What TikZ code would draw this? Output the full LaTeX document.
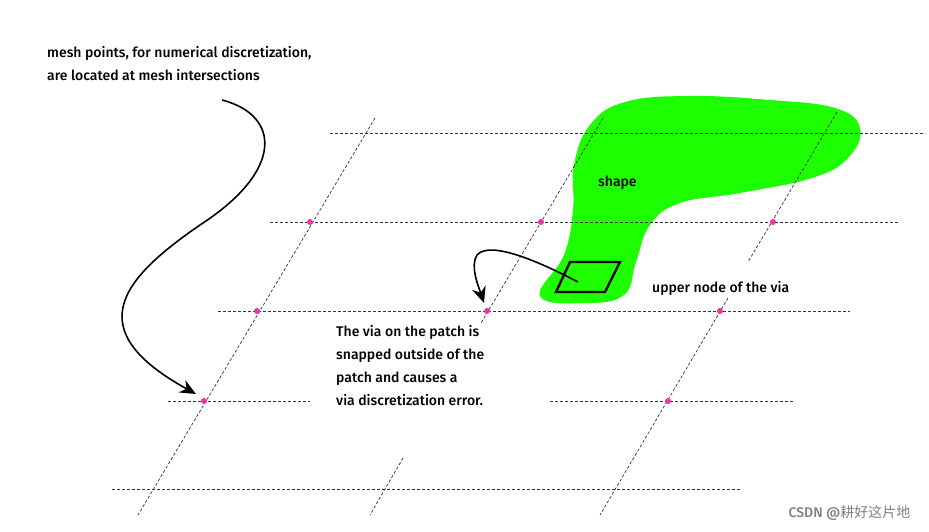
\documentclass[tikz,border=0pt]{standalone}
\usepackage{fontspec}
\setmainfont{Fira Sans}[UprightFont=* Medium]
\newfontfamily\cjk{Noto Sans CJK SC}
\usetikzlibrary{arrows.meta}
\begin{document}
\begin{tikzpicture}[x=1pt,y=-1pt,
  grid/.style={densely dashed,gray!40!black,line width=0.7pt},
  meshpt/.style={circle,fill=magenta!80!white,inner sep=0pt,minimum size=6pt},
  lbl/.style={font=\fontsize{14}{23}\selectfont,align=left,inner sep=0pt,anchor=north west},
  arr/.style={line width=1.6pt,-{Stealth[length=16pt,width=14pt]}}]
\useasboundingbox (0,0) rectangle (929,531);
\fill[white] (0,0) rectangle (929,531);
% green shape
\fill[green!85!lime] plot[smooth cycle,tension=0.7] coordinates{
 (540,296)(564,255)(573,210)(574,165)(590,125)(625,102)(690,96)(770,100)(835,108)(860,128)(848,158)(812,178)(740,193)(680,203)(650,225)(636,262)(624,295)(585,303)};
% horizontal mesh lines
\draw[grid] (330,133) -- (925,133);
\draw[grid] (270,222) -- (900,222);
\draw[grid] (218,311) -- (850,311);
\draw[grid] (168,401) -- (310,401);
\draw[grid] (550,401) -- (795,401);
\draw[grid] (112,489) -- (740,489);
% slanted mesh lines
\draw[grid] (375,118) -- (138,515);
\draw[grid] (603,118) -- (481,323);
\draw[grid] (403,458) -- (370,515);
\draw[grid] (837,112) -- (748,262);
\draw[grid] (728,298) -- (600,515);
% mesh points
\foreach \p/\q in {a/{310,222},b/{541,222},c/{773,222},d/{257,311},e/{487,311},f/{720,311},g/{204,401},h/{668,401}}
  \node[meshpt] (\p) at (\q) {};
% via
\draw[line width=2.4pt,line join=miter] (570,262) -- (620,262) -- (605,292) -- (556,292) -- cycle;
\coordinate (via) at (578,282);
\coordinate (vtgt) at (484,303);
\draw[arr] (via) .. controls (540,262) and (490,240) .. (477,255) .. controls (470,266) and (478,285) .. (vtgt);
% texts
\node[lbl] (t1) at (47,46) {mesh points, for numerical discretization,\\are located at mesh intersections};
\node[lbl,anchor=west] (t2) at (598,183) {shape};
\node[lbl,anchor=west] (t3) at (652,288) {upper node of the via};
\node[lbl] (t4) at (336,325) {The via on the patch is\\snapped outside of the\\patch and causes a\\via discretization error.};
\coordinate (s) at (222,100);
\draw[arr] (s) .. controls (280,115) and (285,170) .. (200,225) .. controls (120,280) and (80,330) .. (196,394);
\node[anchor=east,text=gray,font=\fontsize{14}{14}\selectfont] (w) at (914,513) {CSDN @{\cjk 耕好这片地}};
\end{tikzpicture}
\end{document}
